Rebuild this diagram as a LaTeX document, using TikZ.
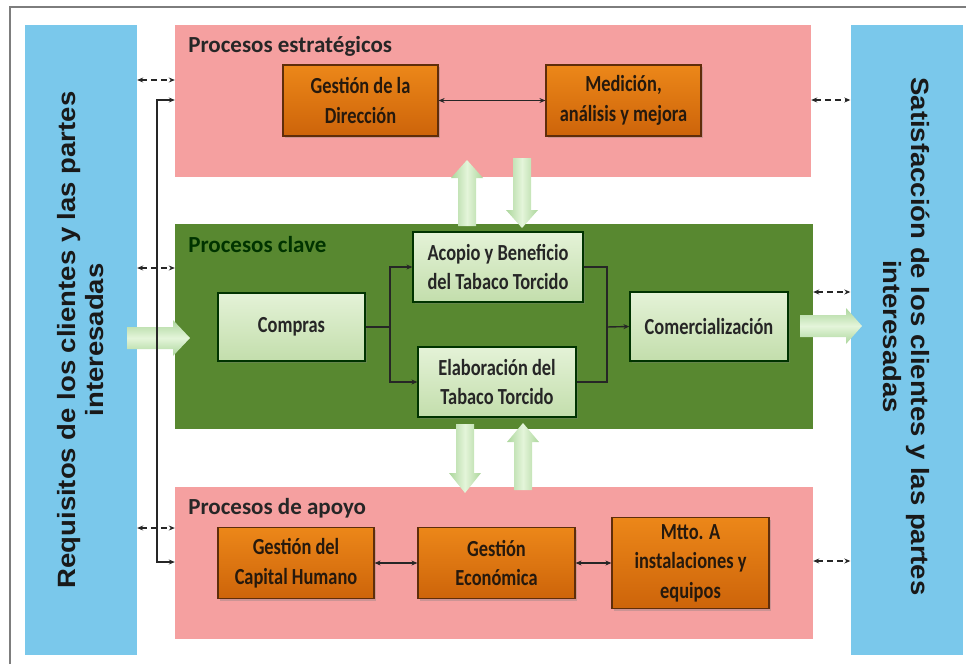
\documentclass[tikz,border=0pt]{standalone}
\usepackage{fontspec}
\setmainfont{Carlito}
\newfontfamily\cajafont[FakeStretch=0.8]{Carlito}
\newfontfamily\ladofont[FakeStretch=1.1]{Liberation Sans}
\usetikzlibrary{arrows.meta, shadows}

\definecolor{azulpanel}{RGB}{122,200,235}
\definecolor{rosa}{RGB}{245,160,160}
\definecolor{verdeoscuro}{RGB}{88,136,48}
\definecolor{verdeclaroA}{RGB}{228,242,215}
\definecolor{verdeclaroB}{RGB}{195,222,172}
\definecolor{naranjaA}{RGB}{236,135,25}
\definecolor{naranjaB}{RGB}{205,100,10}
\definecolor{marronborde}{RGB}{95,45,10}
\definecolor{verdeF1}{RGB}{172,214,156}
\definecolor{verdeF2}{RGB}{228,245,218}
\definecolor{marco}{RGB}{125,125,125}

\tikzset{
  panel/.style={fill=azulpanel, minimum width=112, minimum height=630, inner sep=0pt},
  textolado/.style={font=\ladofont\bfseries\fontsize{25}{28}\selectfont, align=center, text=black!90},
  grupo/.style={fill=#1, inner sep=0pt},
  titulo/.style={anchor=base west, font=\bfseries\fontsize{23}{27}\selectfont, text=black!85},
  caja/.style={line width=1.2pt, minimum width=155, minimum height=71, inner sep=0pt, align=center,
    font=\cajafont\bfseries\fontsize{23}{29.5}\selectfont,
    drop shadow={shadow xshift=2pt, shadow yshift=-2pt, opacity=0.35}},
  naranja/.style={caja, draw=marronborde, top color=naranjaA, bottom color=naranjaB, text=black!80!brown},
  verde/.style={caja, draw=black!80!green, top color=verdeclaroA, bottom color=verdeclaroB, minimum width=158, minimum height=70, text=black!85},
  fino/.style={line width=1.4pt, black!85},
  discontinua/.style={fino, dash pattern=on 6pt off 4pt},
  bloqueV/.style={left color=verdeF1, right color=verdeF1, middle color=verdeF2},
  bloqueH/.style={top color=verdeF1, bottom color=verdeF1, middle color=verdeF2}
}

% flecha gruesa vertical: x, cola, base de la punta, punta
\newcommand{\flechaV}[4]{%
  \shade[bloqueV] (#1-9,#2) -- (#1-9,#3) -- (#1-16,#3) -- (#1,#4) -- (#1+16,#3) -- (#1+9,#3) -- (#1+9,#2) -- cycle;}
% flecha gruesa horizontal: y, cola, base de la punta, punta
\newcommand{\flechaH}[4]{%
  \shade[bloqueH] (#2,#1-11) -- (#3,#1-11) -- (#3,#1-18) -- (#4,#1) -- (#3,#1+18) -- (#3,#1+11) -- (#2,#1+11) -- cycle;}

\begin{document}
\begin{tikzpicture}[x=1pt, y=-1pt, >={Stealth[length=6pt,width=5pt]}]
    % Area and frame
    \useasboundingbox (0,0) rectangle (966,664);
    \draw[marco, line width=1.5pt] (10,664) -- (10,7) -- (966,7);

    % Side panels
    \node[panel] (req) at (81,340) {};
    \node[textolado, rotate=90] at (req.center) {Requisitos de los clientes y las partes\\interesadas};
    \node[panel] (sat) at (906.5,339.5) {};
    \node[textolado, rotate=-90] at ([yshift=3pt]sat.center) {Satisfacción de los clientes y las partes\\interesadas};

    % Process groups
    \node[grupo=rosa, minimum width=636, minimum height=152] (estr) at (493,101) {};
    \node[grupo=verdeoscuro, minimum width=638, minimum height=205] (clave) at (494,326.5) {};
    \node[grupo=rosa, minimum width=638, minimum height=152] (apoyo) at (494,563) {};
    \node[titulo] at ([xshift=10pt, yshift=-28pt]estr.north west) {Procesos estratégicos};
    \node[titulo, text=black!80!green] at ([xshift=10pt, yshift=-29pt]clave.north west) {Procesos clave};
    \node[titulo] at ([xshift=10pt, yshift=-28pt]apoyo.north west) {Procesos de apoyo};

    % Strategic processes
    \node[naranja] (dir) at (360.5,100.5) {Gestión de la\\Dirección};
    \node[naranja] (med) at (623.5,100.5) {Medición,\\análisis y mejora};
    \draw[<->, fino] (dir) -- (med);

    % Key processes
    \node[verde, minimum width=147, minimum height=68] (compras) at (291.5,327) {Compras};
    \node[verde, minimum width=170] (acopio) at (498,267) {Acopio y Beneficio\\del Tabaco Torcido};
    \node[verde] (elab) at (497,382) {Elaboración del\\Tabaco Torcido};
    \node[verde, minimum height=69] (comer) at (709,326.5) {Comercialización};
    \coordinate (reparto) at (390,327);
    \coordinate (union) at (607,327);
    \draw[fino] (compras.east) -- (reparto);
    \draw[->, fino] (reparto) |- (acopio.west);
    \draw[->, fino] (reparto) |- (elab.west);
    \draw[fino] (acopio.east) -| (union);
    \draw[fino] (elab.east) -| (union);
    \draw[->, fino] (union) -- (comer.west);

    % Support processes
    \node[naranja, minimum width=156] (humano) at (296,563) {Gestión del\\Capital Humano};
    \node[naranja, minimum width=157] (econ) at (496.5,563) {Gestión\\Económica};
    \node[naranja, minimum width=157, minimum height=91] (mtto) at (690.5,563) {Mtto. A\\instalaciones y\\equipos};
    \draw[<->, fino] (humano) -- (econ);
    \draw[<->, fino] (econ) -- (mtto);

    % Thick arrows
    \flechaV{467}{226}{178}{160}
    \flechaV{522}{158}{210}{228}
    \flechaV{465}{424}{473}{493}
    \flechaV{523}{490}{442}{423}
    \flechaH{338}{127}{173}{190}
    \flechaH{326}{800}{846}{862}

    % Links with the side panels
    \foreach \y/\g in {80/estr, 268/clave, 528/apoyo}
        \draw[<->, discontinua] (req.east |- 0,\y) -- (\g.west |- 0,\y);
    \foreach \y/\g in {100/estr, 292/clave, 561/apoyo}
        \draw[<->, discontinua] (\g.east |- 0,\y) -- (sat.west |- 0,\y);
    \coordinate (bajada) at (157,562);
    \draw[<->, fino] (estr.west |- 0,100) -| (bajada) -- (apoyo.west |- bajada);
\end{tikzpicture}
\end{document}
